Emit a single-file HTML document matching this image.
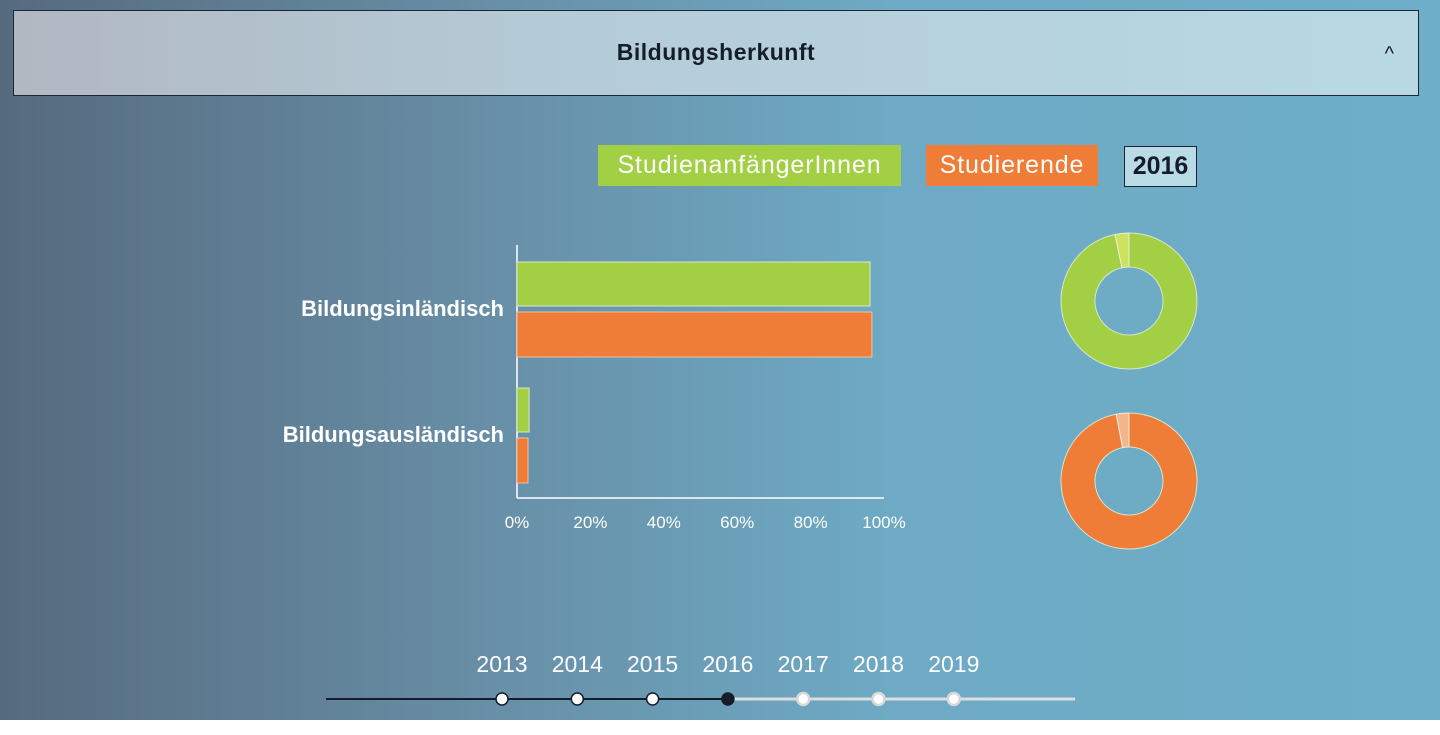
<!DOCTYPE html>
<html><head><meta charset="utf-8"><style>
body{margin:0;width:1440px;height:735px;overflow:hidden;background:#fff;font-family:"Liberation Sans",sans-serif}
#bg{position:absolute;left:0;top:0;width:1440px;height:720px;background:linear-gradient(90deg,#566a7e 0%,#6890a8 35%,#6eaac5 62%,#6eaec8 100%)}
#hdr{position:absolute;left:13px;top:10px;width:1404px;height:84px;border:1px solid #1b2535;background:linear-gradient(90deg,#b1b8c2 0%,#b4ccd8 40%,#b8d9e4 100%)}
#hdr .t{position:absolute;left:0;right:0;top:28px;text-align:center;font-size:23px;font-weight:bold;color:#151c2a;letter-spacing:0.5px}
#hdr .c{position:absolute;right:24px;top:32px;font-size:20px;color:#151c2a}
.lg{position:absolute;top:145px;height:41px;line-height:41px;font-size:25px;color:#fff;text-align:center;letter-spacing:0.9px}
</style></head><body>
<div id="bg"></div>
<div id="hdr"><div class="t">Bildungsherkunft</div><div class="c">^</div></div>
<div class="lg" style="left:598px;width:303px;background:#a3cf45">StudienanfängerInnen</div>
<div class="lg" style="left:926px;width:172px;background:#ef7d37">Studierende</div>
<div class="lg" style="left:1124px;top:146px;height:39px;line-height:39px;width:71px;border:1px solid #1b2535;background:#b9dbe6;color:#151c2a;font-weight:bold;letter-spacing:0">2016</div>
<svg id="ch" width="1440" height="735" style="position:absolute;left:0;top:0"></svg>
<script>
const categories=["Bildungsinländisch","Bildungsausländisch"];
const anfaenger=[96.2,3.3];
const studierende=[96.7,3.0];
const ticks=[0,20,40,60,80,100];
const years=[2013,2014,2015,2016,2017,2018,2019];
const selectedYear=2016;
const NS="http://www.w3.org/2000/svg";
const svg=document.getElementById('ch');
function mk(t,a){const e=document.createElementNS(NS,t);for(const k in a)e.setAttribute(k,a[k]);svg.appendChild(e);return e;}
const X=v=>517+v/100*367;
const catY=i=>259+i*126;
let e;
e=mk('line',{x1:517,y1:245,x2:517,y2:498,stroke:'#fff','stroke-width':1.5});


e=mk('line',{x1:517,y1:498,x2:884,y2:498,stroke:'#fff','stroke-width':1.5});


ticks.forEach(t=>{const tx=mk('text',{x:X(t),y:528,'text-anchor':'middle',fill:'#fff','font-size':17,'font-family':'Liberation Sans,sans-serif'});tx.textContent=t+'%';

});
categories.forEach((c,i)=>{const y=catY(i);
const tx=mk('text',{x:504,y:y+57,'text-anchor':'end',fill:'#fff','font-size':22,'font-weight':'bold','font-family':'Liberation Sans,sans-serif'});tx.textContent=c;


const b1=mk('rect',{x:517,y:y+3,width:X(anfaenger[i])-517,height:44,fill:'#a3cf45',stroke:'#d9e8c8','stroke-width':1});


const b2=mk('rect',{x:517,y:y+53,width:X(studierende[i])-517,height:45,fill:'#ef7d37',stroke:'#f0c0a0','stroke-width':1});


});
function arc(cx,cy,R,r,a0,a1,fill,stroke){const p=(a,rr)=>[cx+rr*Math.sin(a),cy-rr*Math.cos(a)];
const lg=a1-a0>Math.PI?1:0;const[a,b]=p(a0,R),[c,d]=p(a1,R),[f,g]=p(a1,r),[h,k]=p(a0,r);
return mk('path',{d:`M${a},${b}A${R},${R} 0 ${lg} 1 ${c},${d}L${f},${g}A${r},${r} 0 ${lg} 0 ${h},${k}Z`,fill:fill,stroke:stroke,'stroke-width':1});}
[[anfaenger,301,'#a3cf45','#cde35f'],[studierende,481,'#ef7d37','#f3b68e']].forEach(([s,cy,c1,c2],j)=>{
const tot=s[0]+s[1];const a=2*Math.PI*s[0]/tot;
const p1=arc(1129,cy,68,34,0,a,c1,'#d8e6c8');


const p2=arc(1129,cy,68,34,a,2*Math.PI-0.0001,c2,'#e8eedd');


});
const YX=i=>502+i*75.3;
const si=years.indexOf(selectedYear);
e=mk('line',{x1:326,y1:699,x2:YX(si),y2:699,stroke:'#151c2a','stroke-width':2});


e=mk('line',{x1:YX(si),y1:699,x2:1075,y2:699,stroke:'#ddd','stroke-width':3});


years.forEach((y,i)=>{const x=YX(i);
const tx=mk('text',{x:x,y:672,'text-anchor':'middle',fill:'#fff','font-size':23,'font-family':'Liberation Sans,sans-serif'});tx.textContent=y;


const c=mk('circle',{cx:x,cy:699,r:6,fill:i==si?'#151c2a':'#fff',stroke:i<=si?'#151c2a':'#d8d8d8','stroke-width':i<=si?1.5:2.5});


});
</script>
</body></html>
